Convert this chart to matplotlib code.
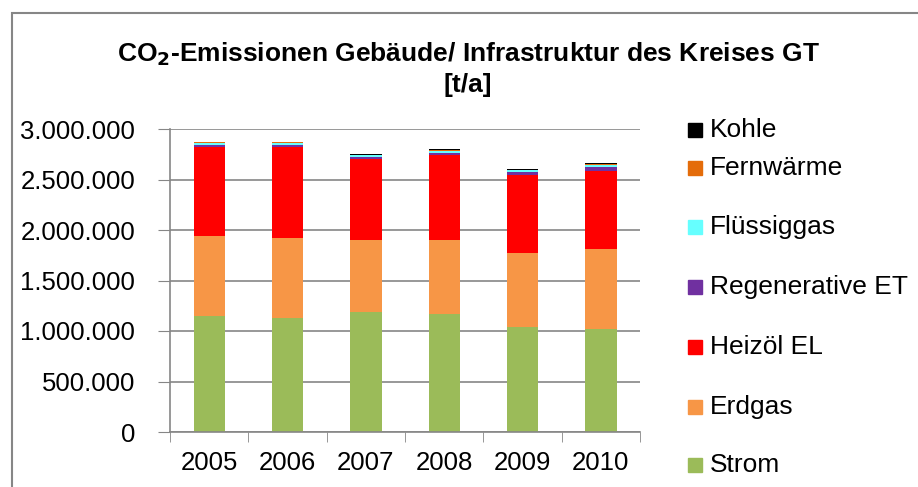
import matplotlib.pyplot as plt
import matplotlib.ticker as mticker
from matplotlib.patches import Rectangle
import numpy as np

plt.rcParams['font.family'] = ['Liberation Sans', 'DejaVu Sans']

years = ['2005', '2006', '2007', '2008', '2009', '2010']
strom = [1145000, 1125000, 1185000, 1172000, 1036000, 1016000]
erdgas = [800000, 800000, 720000, 733000, 740000, 800000]
heizoel = [875000, 895000, 796000, 835000, 767000, 766000]
regenerativ = [20000, 17000, 17000, 27000, 27000, 46000]
fluessiggas = [17000, 20000, 20000, 20000, 20000, 20000]
fernwaerme = [10000, 10000, 8000, 10000, 8000, 8000]
kohle = [5000, 4000, 3000, 3000, 3000, 3000]

series = [
    ('Strom', strom, '#9BBB59'),
    ('Erdgas', erdgas, '#F79646'),
    ('Heizöl EL', heizoel, '#FF0000'),
    ('Regenerative ET', regenerativ, '#7030A0'),
    ('Flüssiggas', fluessiggas, '#66FFFF'),
    ('Fernwärme', fernwaerme, '#E46C0A'),
    ('Kohle', kohle, '#000000'),
]

W, H = 918, 487
fig = plt.figure(figsize=(W / 100, H / 100), dpi=100)
ax = fig.add_axes([170 / W, 1 - 432 / H, 470 / W, 303 / H])

x = np.arange(len(years))
bottom = np.zeros(len(years))
for name, vals, col in series:
    ax.bar(x, vals, 0.4, bottom=bottom, color=col, label=name)
    bottom += np.array(vals)

ax.set_xlim(-0.5, len(years) - 0.5)
ax.set_ylim(0, 3000000)
ax.yaxis.set_major_locator(mticker.MultipleLocator(500000))
ax.yaxis.set_major_formatter(mticker.FuncFormatter(
    lambda v, p: '{:,.0f}'.format(v).replace(',', '.')))
ax.set_xticks(x)
ax.set_xticklabels(years)
ax.set_xticks(np.arange(-0.5, len(years)), minor=True)
ax.tick_params(axis='x', which='major', length=0, labelsize=18.5, pad=14)
ax.tick_params(axis='x', which='minor', length=7, color='#868686', direction='out')
ax.tick_params(axis='y', length=9, color='#868686', labelsize=18.5, pad=16)
ax.grid(axis='y', color='#868686', linewidth=1.2)
ax.set_axisbelow(True)
for s in ['top', 'right']:
    ax.spines[s].set_visible(False)
for s in ['left', 'bottom']:
    ax.spines[s].set_color('#868686')
    ax.spines[s].set_linewidth(1.2)

fig.text(468 / W, 1 - 54 / H, 'CO$_\\mathbf{2}$-Emissionen Gebäude/ Infrastruktur des Kreises GT',
         ha='center', va='center', fontsize=19, fontweight='bold')
fig.text(468 / W, 1 - 85 / H, '[t/a]', ha='center', va='center', fontsize=19, fontweight='bold')

# legend (top entry first, as in the reference)
leg_y = [130, 168, 227, 287, 347, 407, 465]
for (name, vals, col), yy in zip(series[::-1], leg_y):
    fig.patches.append(Rectangle((688 / W, 1 - (yy + 7) / H), 14 / W, 14 / H,
                                 transform=fig.transFigure, color=col))
    fig.text(710 / W, 1 - yy / H, name, ha='left', va='center', fontsize=19)

fig.patches.append(Rectangle((12 / W, -0.1), 1.2, 1.1 - 13 / H, transform=fig.transFigure,
                             fill=False, edgecolor='#868686', linewidth=1.5))

fig.savefig('out.png', dpi=100)
